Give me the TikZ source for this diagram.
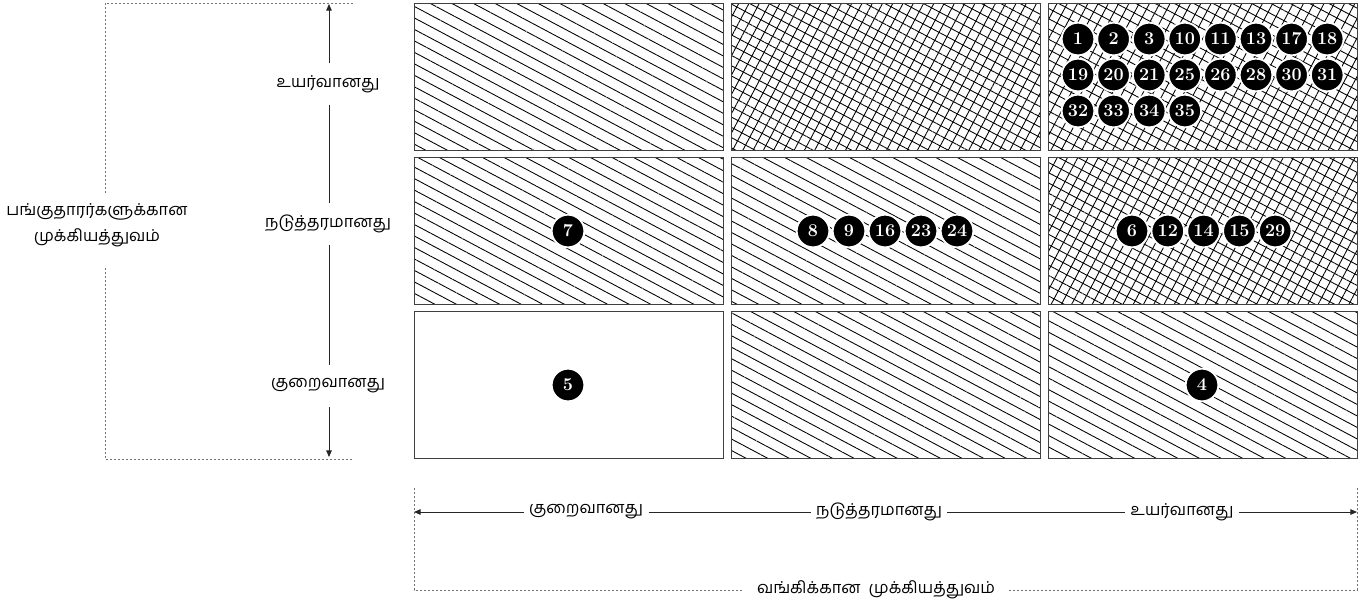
\documentclass[tikz,border=0pt]{standalone}
\usepackage{fontspec}
\newfontfamily\tamil[Script=Tamil]{Hind Madurai}
\usetikzlibrary{patterns.meta,arrows.meta}
\begin{document}
\begin{tikzpicture}[x=0.75pt,y=-0.75pt,
 box/.style={draw=black!75, line width=0.65pt},
 hatchA/.style={pattern={Lines[angle=-28,distance=7.6pt,line width=0.65pt]}},
 hatchB/.style={pattern={Lines[angle=62,distance=6.8pt,line width=0.65pt]}},
 hatchC/.style={pattern={Lines[angle=-28,distance=6.8pt,line width=0.65pt]}},
 dot/.style={circle, fill=black, draw=white, line width=1.4pt, minimum size=24.5pt, inner sep=0pt, text=white, font=\fontsize{13.5}{13.5}\selectfont\bfseries},
 lbl/.style={font=\tamil\fontsize{12.3}{19.5}\selectfont, align=center, inner sep=0pt},
 vlbl/.style={lbl, minimum height=31.5pt},
 hlbl/.style={lbl, inner xsep=4pt},
 axis/.style={draw=black!85, line width=0.65pt},
 tip/.style={-{Triangle[length=5pt,width=4.2pt]}},
 bracket/.style={draw=black!55, line width=0.75pt, dash pattern=on 1.5pt off 1.5pt}
]
\useasboundingbox (0,0) rectangle (1370,601);

% ---- grid of boxes ----
% row 1
\draw[box, hatchA] (414,3) rectangle (723,150);
\fill[hatchC] (731,3) rectangle (1040,150);
\draw[box, hatchB] (731,3) rectangle (1040,150);
\fill[hatchC] (1048,3) rectangle (1357,150);
\draw[box, hatchB] (1048,3) rectangle (1357,150);
% row 2
\draw[box, hatchA] (414,157) rectangle (723,304);
\draw[box, hatchA] (731,157) rectangle (1040,304);
\fill[hatchC] (1048,157) rectangle (1357,304);
\draw[box, hatchB] (1048,157) rectangle (1357,304);
% row 3
\draw[box, fill=white] (414,311) rectangle (723,458);
\draw[box, hatchA] (731,311) rectangle (1040,458);
\draw[box, hatchA] (1048,311) rectangle (1357,458);

% ---- numbered dots ----
\foreach \n [count=\i from 0] in {1,2,3,10,11,13,17,18}
  \node[dot] (d\n) at ({1078+35.6*\i},39) {\n};
\foreach \n [count=\i from 0] in {19,20,21,25,26,28,30,31}
  \node[dot] (d\n) at ({1078+35.6*\i},75) {\n};
\foreach \n [count=\i from 0] in {32,33,34,35}
  \node[dot] (d\n) at ({1078+35.6*\i},111) {\n};
\foreach \n [count=\i from 0] in {8,9,16,23,24}
  \node[dot] (d\n) at ({813+36*\i},231) {\n};
\foreach \n [count=\i from 0] in {6,12,14,15,29}
  \node[dot] (d\n) at ({1132+35.8*\i},231) {\n};
\node[dot] (d7) at (568,231) {7};
\node[dot] (d5) at (568,385) {5};
\node[dot] (d4) at (1202,385) {4};

% ---- vertical axis (stakeholder) ----
\coordinate (vtop) at (329,4);
\coordinate (vbot) at (329,457);
\node[vlbl] (vh) at (328,84) {உயர்வானது};
\node[vlbl] (vm) at (328,224) {நடுத்தரமானது};
\node[vlbl] (vl) at (328,386) {குறைவானது};
\draw[axis, tip] (vh.north -| vtop) -- (vtop);
\draw[axis] (vh.south -| vtop) -- (vm.north -| vtop);
\draw[axis] (vm.south -| vtop) -- (vl.north -| vtop);
\draw[axis, tip] (vl.south -| vtop) -- (vbot);

% ---- left dotted bracket ----
\node[lbl] (stake) at (97,225) {பங்குதாரர்களுக்கான\\முக்கியத்துவம்};
\coordinate (sa) at (353,3);
\coordinate (sb) at (105,3);
\coordinate (sc) at (105,193);
\coordinate (sd) at (105,268);
\coordinate (se) at (105,459);
\coordinate (sf) at (353,459);
\draw[bracket] (sa) -- (sb) -- (sc);
\draw[bracket] (sd) -- (se) -- (sf);

% ---- horizontal axis (bank) ----
\coordinate (hl) at (414,512);
\coordinate (hr) at (1357,512);
\node[hlbl] (hlo) at (586,512) {குறைவானது};
\node[hlbl] (hmi) at (879,512) {நடுத்தரமானது};
\node[hlbl] (hhi) at (1182,512) {உயர்வானது};
\draw[axis, tip] (hlo.west) -- (hl);
\draw[axis] (hlo.east) -- (hmi.west);
\draw[axis] (hmi.east) -- (hhi.west);
\draw[axis, tip] (hhi.east) -- (hr);

% ---- bottom dotted bracket ----
\node[hlbl, inner xsep=10pt] (bank) at (876,590) {வங்கிக்கான \ முக்கியத்துவம்};
\coordinate (ba) at (414,488);
\coordinate (bb) at (414,590);
\coordinate (bc) at (1357,590);
\coordinate (bd) at (1357,488);
\draw[bracket] (ba) -- (bb) -- (bank.west);
\draw[bracket] (bank.east) -- (bc) -- (bd);
\end{tikzpicture}
\end{document}
